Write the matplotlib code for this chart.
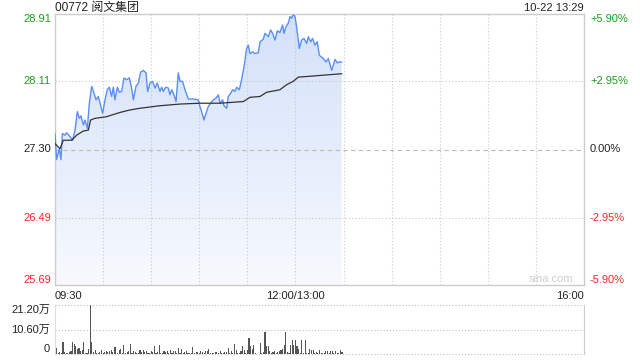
import numpy as np
import matplotlib
matplotlib.use("Agg")
import matplotlib.pyplot as plt
from matplotlib.colors import LinearSegmentedColormap

plt.rcParams['font.family'] = ['Liberation Sans', 'Noto Sans CJK SC', 'DejaVu Sans']

# ---- data ----
title = "00772 阅文集团"
stamp = "10-22 13:29"
prev_close = 27.30
price_ticks = [25.69, 26.49, 27.30, 28.11, 28.91]
price_labels = ["25.69", "26.49", "27.30", "28.11", "28.91"]
pct_labels = ["-5.90%", "-2.95%", "0.00%", "+2.95%", "+5.90%"]
time_labels = ["09:30", "12:00/13:00", "16:00"]
vol_labels = ["0", "10.60万", "21.20万"]
vol_max = 21.20  # 万

# minute index (0 = 09:30, 150 = 13:00, 330 = 16:00)
price_min = [0.0, 1.0, 2.7, 3.7, 4.6, 6.2, 7.3, 9.4, 11.0, 12.5, 13.9, 15.2, 16.2, 17.7, 18.7,
             20.2, 21.4, 22.9, 24.3, 25.6, 27.0, 28.1, 29.7, 31.2, 32.6, 33.9, 35.3, 36.4, 37.4,
             38.9, 40.1, 41.6, 43.0, 44.7, 46.4, 47.8, 48.9, 50.5, 52.0, 53.4, 55.1, 56.8, 57.8,
             59.3, 60.9, 62.4, 63.8, 65.5, 66.5, 67.6, 69.0, 70.7, 71.7, 72.8, 74.2, 75.5, 76.9,
             78.0, 79.6, 81.1, 83.2, 86.3, 89.4, 90.4, 91.5, 92.9, 94.2, 95.6, 97.1, 98.8, 100.4,
             101.9, 102.9, 104.6, 105.4, 107.1, 108.1, 109.6, 110.8, 112.3, 113.3, 115.0, 116.4,
             117.9, 119.5, 120.6, 121.6, 123.3, 124.7, 126.8, 127.9, 129.9, 131.0, 133.1, 134.5,
             135.8, 137.2, 138.7, 140.3, 142.0, 142.8, 144.1, 145.5, 146.6, 147.6, 148.6, 149.7,
             150.7, 152.4, 153.8, 155.3, 157.0, 158.0, 159.5, 160.7, 162.2, 163.6, 164.9, 167.4,
             169.1, 170.5, 172.6, 174.7, 176.1, 177.4, 178.8]
price = [27.49, 27.18, 27.31, 27.18, 27.49, 27.47, 27.50, 27.45, 27.41, 27.53, 27.75, 27.67, 27.70,
         27.59, 27.65, 27.55, 27.85, 28.05, 27.97, 27.89, 27.93, 27.85, 27.73, 27.89, 28.01, 28.04,
         27.93, 28.04, 27.89, 28.04, 27.98, 27.99, 28.15, 28.13, 28.15, 28.03, 27.89, 28.05, 28.09,
         28.22, 28.24, 28.21, 27.99, 28.09, 28.11, 28.03, 28.09, 27.99, 28.04, 27.99, 28.04, 28.03,
         27.95, 28.01, 27.95, 27.87, 28.21, 28.11, 28.11, 28.01, 27.90, 27.90, 27.89, 27.81, 27.75,
         27.65, 27.73, 27.81, 27.85, 27.89, 27.91, 27.95, 27.85, 27.89, 27.82, 27.79, 27.93, 27.97,
         28.01, 27.99, 28.04, 28.01, 28.13, 28.28, 28.50, 28.54, 28.44, 28.46, 28.44, 28.45, 28.58,
         28.61, 28.68, 28.64, 28.72, 28.68, 28.60, 28.71, 28.69, 28.78, 28.68, 28.76, 28.80, 28.88,
         28.86, 28.90, 28.88, 28.76, 28.50, 28.60, 28.62, 28.56, 28.64, 28.58, 28.62, 28.54, 28.58,
         28.42, 28.38, 28.34, 28.38, 28.24, 28.37, 28.33, 28.34, 28.34]

avg_min = [0.0, 3.1, 5.2, 10.4, 13.5, 17.7, 20.8, 22.2, 24.9, 32.2, 40.5, 46.8, 53.0, 65.5, 78.0,
           90.4, 102.9, 117.5, 121.6, 127.9, 132.0, 140.3, 144.5, 148.6, 151.8, 159.0, 165.3, 178.8]
avg_price = [27.37, 27.31, 27.41, 27.41, 27.47, 27.52, 27.53, 27.65, 27.67, 27.69, 27.74, 27.77,
             27.79, 27.82, 27.84, 27.85, 27.85, 27.87, 27.92, 27.93, 27.98, 28.01, 28.07, 28.11,
             28.16, 28.17, 28.18, 28.20]

volume = [0.5, 2.6, 0.4, 0.7, 0.4, 5.4, 0.7, 0.4, 0.3, 0.9,
          1.1, 5.4, 4.3, 3.6, 2.2, 2.6, 1.1, 1.9, 5.0, 0.4,
          0.3, 2.3, 21.2, 5.4, 0.7, 1.9, 0.4, 0.3, 0.7, 1.6,
          0.4, 0.9, 1.1, 0.9, 1.4, 1.9, 0.9, 2.9, 2.9, 0.3,
          1.9, 2.3, 0.4, 4.0, 0.4, 0.9, 1.1, 4.4, 0.3, 1.1,
          0.9, 0.4, 0.3, 1.6, 0.9, 1.9, 0.9, 1.1, 0.3, 0.4,
          1.1, 0.7, 3.3, 0.3, 0.7, 4.0, 0.4, 0.3, 1.1, 0.9,
          1.1, 0.4, 1.9, 0.4, 1.1, 1.1, 0.3, 2.6, 0.4, 2.3,
          0.3, 0.7, 1.1, 0.4, 0.4, 0.3, 3.0, 0.4, 0.7, 0.9,
          0.4, 1.4, 0.9, 0.3, 1.1, 1.1, 2.1, 0.4, 0.4, 0.4,
          0.7, 0.9, 0.3, 1.4, 0.4, 0.4, 0.7, 0.9, 2.6, 0.4,
          1.4, 0.4, 4.4, 1.9, 0.4, 0.4, 1.1, 3.3, 1.9, 0.4,
          1.9, 6.9, 3.3, 2.3, 4.0, 0.4, 0.1, 0.2, 4.7, 0.4,
          0.9, 9.5, 3.6, 3.3, 1.1, 0.4, 0.9, 1.1, 0.3, 0.9,
          1.1, 1.9, 2.3, 4.0, 9.5, 0.7, 0.4, 4.0, 5.9, 4.0,
          6.2, 3.3, 2.3, 0.4, 5.9, 0.4, 5.9, 0.3, 0.4, 2.1,
          1.9, 1.9, 0.4, 0.7, 0.4, 1.9, 0.4, 0.4, 0.3, 1.4,
          1.4, 0.4, 1.4, 1.1, 0.4, 1.4, 0.4, 0.4, 1.9, 0.7]

# ---- style ----
GREEN = "#1a9e1a"
RED = "#ee2a2a"
DARK = "#222222"
GRID = "#c8c8c8"
BORDER = "#cccccc"
FS = 8.0

fig = plt.figure(figsize=(6.4, 3.6), dpi=100)
W, H = 640, 360
L, R = 55, 584
ax = fig.add_axes([L / W, 75 / H, (R - L) / W, (346 - 75) / H])
axv = fig.add_axes([L / W, 6 / H, (R - L) / W, (55 - 6) / H])

ymin, ymax = price_ticks[0], price_ticks[-1]
ax.set_xlim(0, 330)
ax.set_ylim(ymin, ymax)

# gradient fill under the price line
cmap = LinearSegmentedColormap.from_list("g", ["#f7f9fe", "#d3e1f9"])
grad = np.linspace(0, 1, 256).reshape(-1, 1)
im = ax.imshow(grad, cmap=cmap, origin="lower", aspect="auto",
               extent=[0, price_min[-1], ymin, ymax], zorder=1)
poly = ax.fill_between(price_min, price, ymin, color="none", lw=0)
im.set_clip_path(poly.get_paths()[0], transform=ax.transData)

# grid (drawn over the fill)
for xv in range(30, 330, 30):
    ax.axvline(xv, color=GRID, lw=0.8, ls=(0, (1, 2)), zorder=2)
for yv in [26.49, 28.11]:
    ax.axhline(yv, color=GRID, lw=0.8, ls=(0, (1, 2)), zorder=2)
ax.axhline(prev_close, color="#bbbbbb", lw=0.8, ls=(0, (4, 3)), zorder=2)

ax.plot(price_min, price, color="#5b8ff0", lw=1.0, zorder=3)
ax.plot(avg_min, avg_price, color="#333333", lw=0.9, zorder=3)

ax.set_xticks([])
ax.set_yticks([])
for s in ax.spines.values():
    s.set_color(BORDER)
    s.set_linewidth(1.0)

# y labels (left: price, right: percent)
lcols = [RED, RED, DARK, GREEN, GREEN]
xl = -4 / (R - L) * 330
xr = 330 + 6 / (R - L) * 330
for i, (v, lab, pl) in enumerate(zip(price_ticks, price_labels, pct_labels)):
    if i == 0:
        va = "bottom"
    elif i == len(price_ticks) - 1:
        va = "top"
    else:
        va = "center"
    ax.text(xl, v, lab, ha="right", va=va, fontsize=FS, color=lcols[i])
    ax.text(xr, v, pl, ha="left", va=va, fontsize=FS, color=lcols[i])

# x labels
for xv, lab, ha in [(0, time_labels[0], "left"), (150, time_labels[1], "center"),
                    (330, time_labels[2], "right")]:
    ax.annotate(lab, (xv, ymin), xytext=(0, -4), textcoords="offset points",
                ha=ha, va="top", fontsize=FS, color=DARK, annotation_clip=False)

ax.text(0.938, 0.005, "sina.com", ha="center", va="bottom", transform=ax.transAxes,
        fontsize=FS, color="#d0d0d0")

fig.text(L / W, (360 - 8) / H, title, ha="left", va="center", fontsize=FS + 0.6, color=DARK)
fig.text(R / W, (360 - 8) / H, stamp, ha="right", va="center", fontsize=FS, color=DARK)

# volume panel
minutes = np.arange(len(volume))
axv.bar(minutes, volume, width=0.7, color="#555555", zorder=2)
axv.set_xlim(0, 330)
axv.set_ylim(0, vol_max)
axv.set_xticks([])
axv.set_yticks([])
for yv in [0, vol_max / 2, vol_max]:
    axv.axhline(yv, color=GRID, lw=0.9, ls=(0, (1, 1.5)), zorder=1, clip_on=False)
for k in ["top", "bottom"]:
    axv.spines[k].set_visible(False)
axv.spines["left"].set_color("#dddddd")
axv.spines["right"].set_color(BORDER)
vpos = [(0, "bottom"), (vol_max / 2, "center"), (vol_max, "top")]
for (yv, va), lab in zip(vpos, vol_labels):
    axv.text(-5 / (R - L) * 330, yv, lab, ha="right", va=va, fontsize=FS, color=DARK)

fig.savefig("out.png", dpi=100)
